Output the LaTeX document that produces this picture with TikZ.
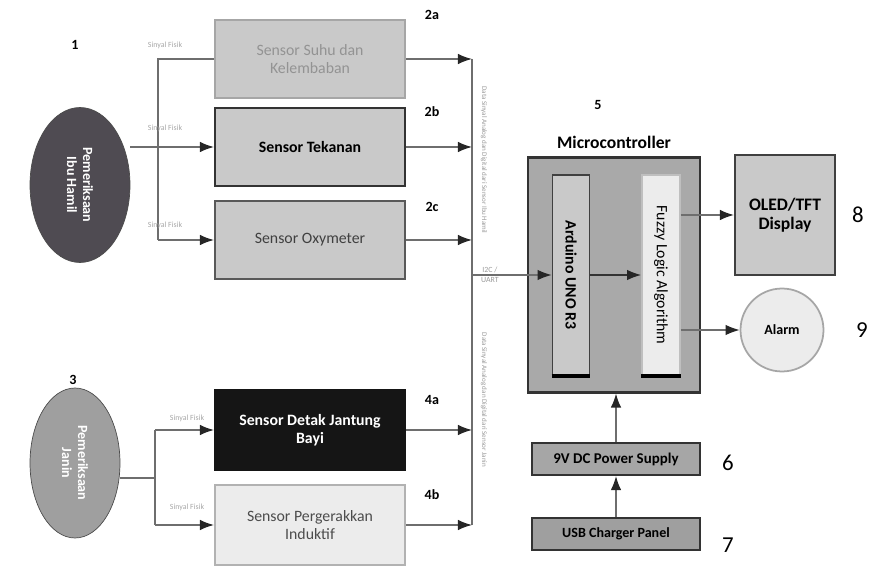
\documentclass[tikz,border=0pt]{standalone}
\usepackage{fontspec}
\setmainfont{Carlito}
\usetikzlibrary{positioning,calc,arrows.meta,shapes.geometric}
\definecolor{garisabu}{HTML}{6E6E6E}
\definecolor{abumuda}{HTML}{C9C9C9}
\definecolor{abutua}{HTML}{4F4B52}
\definecolor{abumcu}{HTML}{A9A9A9}
\definecolor{hitam}{HTML}{151515}
\definecolor{putihabu}{HTML}{ECECEC}

\begin{document}
\begin{tikzpicture}[x=0.02cm, y=-0.02cm, font=\fontsize{9}{10}\selectfont,
  kotak/.style={draw=#1, line width=1.2pt, fill=abumuda, minimum width=3.8cm, minimum height=1.56cm, align=center},
  kotak/.default=gray,
  garis/.style={garisabu, line width=0.8pt},
  panah/.style={garis, -{Latex[length=8pt,width=6pt,black!85]}},
  nomor/.style={font=\fontsize{8}{9}\selectfont\bfseries},
  angka/.style={font=\fontsize{13}{14}\selectfont},
  fisik/.style={text=gray!70, font=\fontsize{4.5}{5}\selectfont},
  tegak/.style={rotate=-90, text=gray!80, font=\fontsize{4}{5}\selectfont}]
\useasboundingbox (0,0) rectangle (873,574);

% ================= pemeriksaan ibu =================
\node[nomor] (n1) at (75,45) {1};
\node[ellipse, draw=gray!60!black, fill=abutua, minimum width=2.0cm, minimum height=3.1cm] (ibu) at (80,185) {};
\node[rotate=-90, align=center, text=white, font=\fontsize{8}{9}\selectfont\bfseries] at (ibu.center) {Pemeriksaan\\Ibu Hamil};

% sensor ibu
\node[kotak=gray!70, text=gray!85] (suhu) at (310,59) {Sensor Suhu dan\\Kelembaban};
\node[kotak=black!80, font=\fontsize{9}{10}\selectfont\bfseries] (tekanan) at (310,147) {Sensor Tekanan};
\node[kotak=gray!70!black, text=black!75] (oxy) at (310,240) {Sensor Oxymeter};
\node[nomor] (n2a) at (432,15) {2a};
\node[nomor] (n2b) at (432,112) {2b};
\node[nomor] (n2c) at (432,207) {2c};

% cabang sinyal fisik
\coordinate (cabA) at (158,59);
\draw[garis] (suhu.west) -- (cabA) -- (cabA |- oxy.west);
\draw[panah] (cabA |- oxy.west) -- (oxy.west);
\draw[panah] (ibu.east |- tekanan.west) -- (tekanan.west);
\node[fisik] (fa) at (165,45) {Sinyal Fisik};
\node[fisik] (fb) at (165,128) {Sinyal Fisik};
\node[fisik] (fc) at (165,225) {Sinyal Fisik};

% ================= pemeriksaan janin =================
\node[nomor] (n3) at (73,380) {3};
\node[ellipse, draw=gray!60!black, fill=gray!75, minimum width=1.8cm, minimum height=3.0cm] (janin) at (75,463) {};
\node[rotate=-90, align=center, text=white, font=\fontsize{8}{9}\selectfont\bfseries] at (janin.center) {Pemeriksaan\\Janin};

\node[kotak=hitam, fill=hitam, text=white!85, font=\fontsize{9}{10}\selectfont\bfseries, minimum height=1.6cm] (detak) at (310,430) {Sensor Detak Jantung\\Bayi};
\node[kotak=gray!60, fill=putihabu, text=black!70, minimum height=1.6cm] (gerak) at (310,525) {Sensor Pergerakkan\\Induktif};
\node[nomor] (n4a) at (432,400) {4a};
\node[nomor] (n4b) at (432,495) {4b};

\coordinate (cabB) at (155,478);
\draw[garis] (janin.east |- cabB) -- (cabB);
\draw[garis] (cabB |- detak.west) -- (cabB |- gerak.west);
\draw[panah] (cabB |- detak.west) -- (detak.west);
\draw[panah] (cabB |- gerak.west) -- (gerak.west);
\node[fisik] (fd) at (187,418) {Sinyal Fisik};
\node[fisik] (fe) at (187,507) {Sinyal Fisik};

% ================= bus data =================
\coordinate (busA) at (472,59);
\coordinate (busB) at (472,525);
\draw[garis] (busA) -- (busB);
\draw[panah] (suhu.east) -- (suhu.east -| busA);
\draw[panah] (tekanan.east) -- (tekanan.east -| busA);
\draw[panah] (oxy.east) -- (oxy.east -| busA);
\draw[panah] (detak.east) -- (detak.east -| busA);
\draw[panah] (gerak.east) -- (gerak.east -| busA);
\node[tegak] (ketA) at (484,160) {Data Sinyal Analog dan Digital dari Sensor Ibu Hamil};
\node[tegak] (ketB) at (484,400) {Data Sinyal Analog dan Digital dari Sensor Janin};

% ================= microcontroller =================
\node[nomor] (n5) at (598,105) {5};
\node[draw=gray!40!black, line width=1.2pt, fill=abumcu, minimum width=3.44cm, minimum height=4.7cm] (mcu) at (614,275) {};
\node[font=\fontsize{10}{11}\selectfont\bfseries, above=1pt of mcu.north] (judul) {Microcontroller};
\node[draw=gray!50!black, line width=1pt, fill=abumuda, minimum width=0.74cm, minimum height=4.0cm] (uno) at (571,275) {};
\node[rotate=-90, font=\fontsize{9}{10}\selectfont\bfseries] at (uno.center) {Arduino UNO R3};
\node[draw=gray!50, line width=1pt, fill=putihabu, minimum width=0.76cm, minimum height=4.0cm] (fuzzy) at (661,275) {};
\node[rotate=-90, font=\fontsize{9}{10}\selectfont] at (fuzzy.center) {Fuzzy Logic Algorithm};
\draw[line width=2pt] (uno.south west) -- (uno.south east);
\draw[line width=2pt] (fuzzy.south west) -- (fuzzy.south east);
\draw[panah, draw=black!80] (uno.east) -- (fuzzy.west);

\draw[panah] (busA |- uno.west) -- (uno.west);
\node[align=center, text=gray!80, font=\fontsize{4.5}{6}\selectfont] (iic) at (490,275) {I2C /\\UART};

% ================= keluaran =================
\node[draw=black!75, line width=1.2pt, fill=abumuda, minimum width=2.0cm, minimum height=2.4cm, align=center, font=\fontsize{10}{11}\selectfont\bfseries] (oled) at (785,215) {OLED/TFT\\Display};
\node[angka] (n8) at (858,215) {8};
\node[circle, draw=gray!70, line width=1pt, fill=putihabu, minimum size=1.66cm, font=\fontsize{8}{9}\selectfont\bfseries] (alarm) at (782,330) {Alarm};
\node[angka] (n9) at (862,330) {9};
\draw[panah] (fuzzy.east |- oled.west) -- (oled.west);
\draw[panah] (fuzzy.east |- alarm.west) -- (alarm.west);

% ================= catu daya =================
\node[draw=black!80, line width=1.2pt, fill=gray!70, minimum width=3.36cm, minimum height=0.64cm, font=\fontsize{8.5}{9}\selectfont\bfseries] (psu) at (616,459) {9V DC Power Supply};
\node[angka] (n6) at (728,463) {6};
\node[draw=black!80, line width=1.2pt, fill=gray!75, minimum width=3.36cm, minimum height=0.64cm, font=\fontsize{8}{9}\selectfont\bfseries] (usb) at (616,534) {USB Charger Panel};
\node[angka] (n7) at (728,545) {7};
\draw[panah] (psu.north) -- (psu.north |- mcu.south);
\draw[panah] (usb.north) -- (psu.south);

\end{tikzpicture}
\end{document}
